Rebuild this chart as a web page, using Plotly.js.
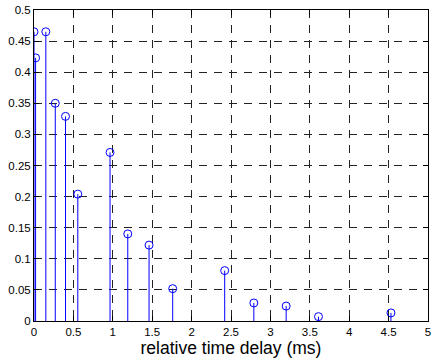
<!DOCTYPE html>
<html>
<head>
<meta charset="utf-8">
<script src="https://cdn.plot.ly/plotly-3.0.1.min.js"></script>
<style>html,body{margin:0;padding:0;background:#fff;}#chart{width:433px;height:361px;}</style>
</head>
<body>
<div id="chart"></div>
<script>
const delays = [0, 0.02, 0.15, 0.27, 0.40, 0.556, 0.965, 1.19, 1.46, 1.76, 2.42, 2.79, 3.20, 3.61, 4.53];
const amplitudes = [0.465, 0.423, 0.465, 0.350, 0.329, 0.204, 0.271, 0.140, 0.122, 0.052, 0.081, 0.029, 0.024, 0.007, 0.013];
const xTicks = [0, 0.5, 1, 1.5, 2, 2.5, 3, 3.5, 4, 4.5, 5];
const yTicks = [0, 0.05, 0.1, 0.15, 0.2, 0.25, 0.3, 0.35, 0.4, 0.45, 0.5];

const stemX = [], stemY = [];
delays.forEach((d, i) => { stemX.push(d, d, null); stemY.push(0, amplitudes[i], null); });

const traces = [
  {x: stemX, y: stemY, mode: 'lines', type: 'scatter', line: {color: '#0000ff', width: 1}, hoverinfo: 'skip', showlegend: false},
  {x: delays, y: amplitudes, mode: 'markers', type: 'scatter',
   marker: {symbol: 'circle-open', size: 8, color: '#0000ff', line: {width: 1, color: '#0000ff'}}, showlegend: false}
];

const axisCommon = {
  showline: true, linecolor: '#000', linewidth: 1, mirror: 'ticks',
  ticks: 'inside', ticklen: 5, tickcolor: '#000', tickwidth: 1,
  showgrid: true, gridcolor: '#222', gridwidth: 1, griddash: '8px,7px',
  zeroline: false, tickfont: {family: 'Liberation Sans, Arial, sans-serif', size: 11.5, color: '#000'}
};

const layout = {
  width: 433, height: 361,
  margin: {l: 34, r: 5, t: 10, b: 40},
  paper_bgcolor: '#fff', plot_bgcolor: '#fff',
  showlegend: false,
  xaxis: Object.assign({}, axisCommon, {range: [0, 5], tickvals: xTicks, ticktext: xTicks.map(String),
    title: {text: 'relative time delay (ms)', font: {family: 'Liberation Sans, Arial, sans-serif', size: 17.5, color: '#000'}, standoff: 1}}),
  yaxis: Object.assign({}, axisCommon, {range: [0, 0.5], tickvals: yTicks, ticktext: yTicks.map(String)})
};

Plotly.newPlot('chart', traces, layout, {displayModeBar: false, staticPlot: true});
</script>
</body>
</html>
